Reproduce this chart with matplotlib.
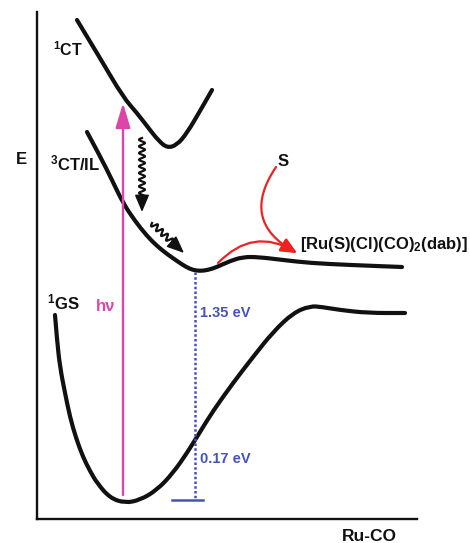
import numpy as np
import matplotlib
matplotlib.use("Agg")
import matplotlib.pyplot as plt
from matplotlib.path import Path
from matplotlib.patches import PathPatch, FancyArrowPatch

# potential energy curves (x = Ru-CO, y = screen px, down)
ct1_x = [77, 100, 123, 137, 150, 158, 167, 177, 187, 200, 212]
ct1_y = [20, 58, 97, 113, 130, 140, 148, 145, 133, 111, 90]

ct3_x = [87, 100, 112, 123, 135, 147, 157, 167, 177, 186, 193, 200, 208,
         217, 230, 243, 258, 283, 310, 350, 402]
ct3_y = [132, 156, 180, 203, 221, 236, 246, 254, 261, 267, 270, 271, 270,
         267, 261, 257, 257, 260, 263, 265, 267]

gs_x = [55, 57, 60, 65, 70, 76, 83, 90, 97, 110, 125, 140, 157, 173, 187,
        200, 213, 233, 253, 273, 293, 310, 322, 340, 368, 405]
gs_y = [315, 340, 367, 393, 417, 438, 457, 471, 483, 498, 503, 500, 490,
        473, 453, 432, 411, 383, 357, 332, 313, 306, 307, 310, 313, 313]

state_labels = ['$^1$CT', '$^3$CT/IL', '$^1$GS']
gap_labels = ['1.35 eV', '0.17 eV']
product_label = '[Ru(S)(Cl)(CO)$_2$(dab)]'

BLACK = '#111111'
MAGENTA = '#dc46a8'
BLUE = '#4652bc'
RED = '#ee2222'

plt.rcParams['font.family'] = ['Liberation Sans', 'DejaVu Sans']
plt.rcParams['font.weight'] = 'bold'
plt.rcParams['mathtext.default'] = 'regular'

fig = plt.figure(figsize=(4.7, 5.43), dpi=100)
ax = fig.add_axes([37 / 470, (543 - 519) / 543, 380 / 470, 507 / 543])
ax.set_xlim(37, 417)
ax.set_ylim(519, 12)
ax.set_xticks([])
ax.set_yticks([])
for side in ['top', 'right']:
    ax.spines[side].set_visible(False)
for side in ['left', 'bottom']:
    ax.spines[side].set_linewidth(1.7)
    ax.spines[side].set_color(BLACK)


def smooth(xs, ys):
    pts = np.column_stack([xs, ys]).astype(float)
    verts = [pts[0]]
    codes = [Path.MOVETO]
    for i in range(1, len(pts) - 1):
        verts += [pts[i], (pts[i] + pts[i + 1]) / 2]
        codes += [Path.CURVE3, Path.CURVE3]
    verts.append(pts[-1])
    codes.append(Path.LINETO)
    return Path(verts, codes)


for xs, ys in [(ct1_x, ct1_y), (ct3_x, ct3_y), (gs_x, gs_y)]:
    ax.add_patch(PathPatch(smooth(xs, ys), fill=False, lw=3.0, ec=BLACK,
                           capstyle='round', joinstyle='round', clip_on=False))


def squiggle(p0, p1, tip, n, amp=3.0):
    p0, p1 = np.array(p0, float), np.array(p1, float)
    d = p1 - p0
    nrm = np.array([-d[1], d[0]]) / np.hypot(*d)
    t = np.linspace(0, 1, 200)
    pts = p0 + np.outer(t, d) + np.outer(amp * np.sin(2 * np.pi * n * t), nrm)
    ax.plot(pts[:, 0], pts[:, 1], color=BLACK, lw=1.6, clip_on=False)
    ax.add_patch(FancyArrowPatch(p1 - 0.3 * d / np.hypot(*d), tip,
                                 arrowstyle='-|>,head_length=1.3,head_width=0.55',
                                 mutation_scale=8, color=BLACK, lw=1.2,
                                 shrinkA=0, shrinkB=0, clip_on=False))


squiggle((142, 138), (142, 198), (142, 212), 9)
squiggle((152, 223), (172, 242), (184, 253), 4)

# excitation h nu
ax.add_patch(FancyArrowPatch((123, 495), (123, 103),
                             arrowstyle='-|>,head_length=1.5,head_width=0.45',
                             mutation_scale=10, color=MAGENTA, lw=1.7,
                             shrinkA=0, shrinkB=0, clip_on=False))

# energy gaps
ax.plot([195, 195], [272, 500], ls=(0, (1, 0.9)), lw=1.8, color=BLUE, clip_on=False)
ax.plot([172, 203], [500, 500], lw=1.8, color=BLUE, clip_on=False)

# solvent attack
ax.add_patch(FancyArrowPatch((276, 167), (297, 253), connectionstyle='arc3,rad=0.55',
                             arrowstyle='-|>,head_length=0.8,head_width=0.35',
                             mutation_scale=12, color=RED, lw=1.6,
                             shrinkA=0, shrinkB=0, clip_on=False))
ax.add_patch(FancyArrowPatch((218, 263), (297, 253), connectionstyle='arc3,rad=-0.4',
                             arrowstyle='-|>,head_length=0.8,head_width=0.35',
                             mutation_scale=12, color=RED, lw=1.6,
                             shrinkA=0, shrinkB=0, clip_on=False))

fs = 12
ax.text(53, 50, state_labels[0], fontsize=11.5, ha='left', va='center', color=BLACK)
ax.text(50, 163, state_labels[1], fontsize=fs, ha='left', va='center', color=BLACK)
ax.text(47, 302, state_labels[2], fontsize=fs, ha='left', va='center', color=BLACK)
ax.text(16, 160, 'E', fontsize=fs, ha='left', va='center', color=BLACK)
ax.text(342, 537, 'Ru-CO', fontsize=12.5, ha='left', va='center', color=BLACK)
ax.text(278, 162, 'S', fontsize=fs, ha='left', va='center', color=BLACK)
ax.text(300, 245, product_label, fontsize=fs, ha='left', va='center', color=BLACK)
ax.text(96, 307, 'hν', fontsize=fs, ha='left', va='center', color=MAGENTA)
ax.text(200, 313, gap_labels[0], fontsize=10.5, ha='left', va='center', color=BLUE)
ax.text(200, 459, gap_labels[1], fontsize=10.5, ha='left', va='center', color=BLUE)

fig.savefig('out.png', dpi=100, facecolor='white')
